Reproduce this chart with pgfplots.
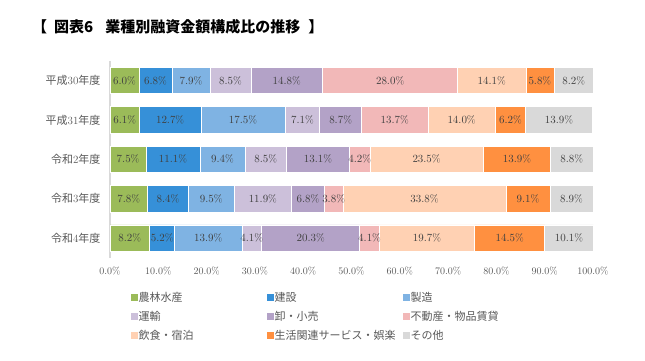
\documentclass[border=0pt]{standalone}
\usepackage{fontspec}
\usepackage{pgfplots}
\usepackage{pgfplotstable}
\pgfplotsset{compat=1.18}
\newfontfamily\cjk{Noto Sans CJK JP}
\definecolor{cA}{HTML}{9BBB59}
\definecolor{cB}{HTML}{3690D8}
\definecolor{cC}{HTML}{7FB3E3}
\definecolor{cD}{HTML}{CCC0DA}
\definecolor{cE}{HTML}{B3A2C7}
\definecolor{cF}{HTML}{F2B8B8}
\definecolor{cG}{HTML}{FFD1B3}
\definecolor{cH}{HTML}{FF9040}
\definecolor{cI}{HTML}{D9D9D9}
\definecolor{txt}{HTML}{404040}
\definecolor{lg}{HTML}{595959}
\pgfplotstableread{
y a b c d e f g h i
0 6.0 6.8 7.9 8.5 14.8 28.0 14.1 5.8 8.2
1 6.1 12.7 17.5 7.1 8.7 13.7 14.0 6.2 13.9
2 7.5 11.1 9.4 8.5 13.1 4.2 23.5 13.9 8.8
3 7.8 8.4 9.5 11.9 6.8 3.8 33.8 9.1 8.9
4 8.2 5.2 13.9 4.1 20.3 4.1 19.7 14.5 10.1
}\data
\pgfplotsset{lbl/.style={
  visualization depends on={rawx\as\rawv},
  nodes near coords={\pgfmathprintnumber[fixed,fixed zerofill,precision=1]{\rawv}\%},
  every node near coord/.append style={anchor=center,
     font=\fontsize{10.5}{12}\selectfont, text=txt, inner sep=0pt}
}}
\begin{document}
\begin{tikzpicture}
\fill[white] (0,0) rectangle (645pt,-361pt);
\useasboundingbox (0,0) rectangle (645pt,-361pt);
\node[anchor=west, inner sep=0pt, font=\cjk\bfseries\fontsize{15}{17}\selectfont] at (32pt,-27pt) {【\hspace{7pt}図表6\hspace{12pt}業種別融資金額構成比の推移\hspace{8pt}】};
\begin{axis}[
  at={(110pt,-60.8pt)}, anchor=north west,
  scale only axis, width=483pt, height=197pt,
  xbar stacked, bar width=26.5pt,
  xmin=0, xmax=100, ymin=-0.5, ymax=4.5,
  y dir=reverse, clip=false,
  ytick={0,1,2,3,4},
  yticklabels={{\cjk 平成}30{\cjk 年度},{\cjk 平成}31{\cjk 年度},{\cjk 令和}2{\cjk 年度},{\cjk 令和}3{\cjk 年度},{\cjk 令和}4{\cjk 年度}},
  xtick={0,10,...,100},
  xticklabel={\pgfmathprintnumber[fixed,fixed zerofill,precision=1]{\tick}\%},
  major tick length=0pt,
  axis x line*=bottom, axis y line*=left,
  x axis line style={draw=none},
  y axis line style={draw=gray!30, line width=1pt},
  xticklabel style={font=\fontsize{10}{12}\selectfont, text=lg, yshift=-6pt},
  yticklabel style={font=\fontsize{11}{13}\selectfont, text=lg, xshift=-6pt},
  every axis plot/.append style={draw=white, line width=0.6pt},
  legend columns=3,
  legend cell align=left,
  legend style={at={(0,0)}, anchor=north west, xshift=20.5pt, yshift=-33pt,
    draw=none, fill=none, font=\cjk\fontsize{11}{13}\selectfont, text=lg,
    row sep=6.3pt, column sep=0pt, inner sep=0pt,
    nodes={inner sep=1pt}},
  legend image code/.code={\fill[#1, draw=none] (0pt,-3.5pt) rectangle (7pt,3.5pt);},
]
\addplot[fill=cA, lbl] table[x=a,y=y]{\data};
\addplot[fill=cB, lbl] table[x=b,y=y]{\data};
\addplot[fill=cC, lbl] table[x=c,y=y]{\data};
\addplot[fill=cD, lbl] table[x=d,y=y]{\data};
\addplot[fill=cE, lbl] table[x=e,y=y]{\data};
\addplot[fill=cF, lbl] table[x=f,y=y]{\data};
\addplot[fill=cG, lbl] table[x=g,y=y]{\data};
\addplot[fill=cH, lbl] table[x=h,y=y]{\data};
\addplot[fill=cI, lbl] table[x=i,y=y]{\data};
\legend{\makebox[127pt][l]{農林水産},\makebox[127pt][l]{建設},\makebox[127pt][l]{製造},
  運輸,卸・小売,不動産・物品賃貸,飲食・宿泊,生活関連サービス・娯楽,その他}
\end{axis}
\end{tikzpicture}
\end{document}
